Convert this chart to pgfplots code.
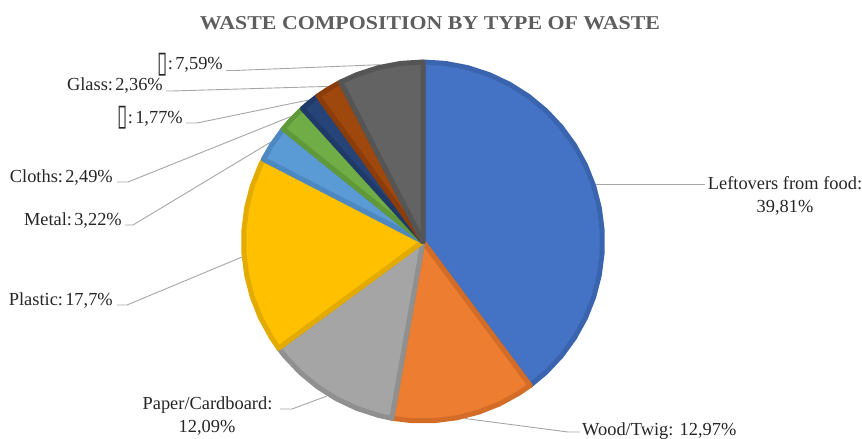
\documentclass[border=0pt]{standalone}
\usepackage{fontspec}
\setmainfont{Liberation Serif}
\newfontfamily\djv{DejaVu Sans}
\usepackage{pgfplots}
\pgfplotsset{compat=1.18}
\usepgfplotslibrary{polar}
\definecolor{c1}{HTML}{4472C4}\definecolor{d1}{HTML}{3B64AE}
\definecolor{c2}{HTML}{ED7D31}\definecolor{d2}{HTML}{D26C27}
\definecolor{c3}{HTML}{A5A5A5}\definecolor{d3}{HTML}{909090}
\definecolor{c4}{HTML}{FFC000}\definecolor{d4}{HTML}{E3AB00}
\definecolor{c5}{HTML}{5B9BD5}\definecolor{d5}{HTML}{4D89C0}
\definecolor{c6}{HTML}{70AD47}\definecolor{d6}{HTML}{5F993A}
\definecolor{c7}{HTML}{264478}\definecolor{d7}{HTML}{1F3A68}
\definecolor{c8}{HTML}{9E480E}\definecolor{d8}{HTML}{8A3D0A}
\definecolor{c9}{HTML}{636363}\definecolor{d9}{HTML}{555555}
\definecolor{txt}{HTML}{262626}
\definecolor{ttl}{HTML}{5E5E5E}
\definecolor{lead}{HTML}{A6A6A6}
\newcommand{\tofu}{\raisebox{-2.5bp}{\scalebox{0.62}[1]{\djv\fontsize{30bp}{30bp}\selectfont ▯}}}
\newcommand{\cs}{:\hspace{2.2bp}}
\begin{document}
\begin{tikzpicture}
\useasboundingbox (0,0) rectangle (862bp,439bp);
\begin{axis}[at={(0,0)},anchor=south west,width=862bp,height=439bp,scale only axis,
  xmin=0,xmax=862,ymin=0,ymax=439,y dir=reverse,hide axis,clip=false]
\coordinate (pc) at (axis cs:423,241.5);
\tikzset{leader/.style={draw=lead,line width=0.9bp},
  lab/.style={font=\fontsize{18.4bp}{22bp}\selectfont,text=txt,inner sep=0pt}}
\draw[leader] (axis cs:596,184) -- (axis cs:705,184);
\draw[leader] (axis cs:465,418.5) -- (axis cs:568,432) -- (axis cs:580,432);
\draw[leader] (axis cs:327,396) -- (axis cs:292,409) -- (axis cs:280,409);
\draw[leader] (axis cs:242,257) -- (axis cs:127,305) -- (axis cs:117,305);
\draw[leader] (axis cs:270.5,142.2) -- (axis cs:133,225) -- (axis cs:125,225);
\draw[leader] (axis cs:290.5,116.7) -- (axis cs:128,182) -- (axis cs:117,182);
\draw[leader] (axis cs:308.5,100) -- (axis cs:197,123) -- (axis cs:186,123);
\draw[leader] (axis cs:327.7,86.4) -- (axis cs:172,91) -- (axis cs:166,91);
\draw[leader] (axis cs:380,64.7) -- (axis cs:235,70.5) -- (axis cs:226,70.5);
\node[anchor=base,font=\fontsize{19.6bp}{24bp}\selectfont\bfseries,text=ttl,inner sep=0pt] at (axis cs:430,29.5) {\scalebox{1.116}[1]{WASTE COMPOSITION BY TYPE OF WASTE}};
\node[lab,anchor=base] at (axis cs:785,189) {Leftovers from food:};
\node[lab,anchor=base] at (axis cs:785,212) {39,81\%};
\node[lab,anchor=base west] at (axis cs:582,435) {Wood/Twig: 12,97\%};
\node[lab,anchor=base] at (axis cs:207.5,409) {Paper/Cardboard:};
\node[lab,anchor=base] at (axis cs:207,432) {12,09\%};
\node[lab,anchor=base east] at (axis cs:113,305) {Plastic\cs17,7\%};
\node[lab,anchor=base east] at (axis cs:122,225) {Metal\cs3,22\%};
\node[lab,anchor=base east] at (axis cs:113,182) {Cloths\cs2,49\%};
\node[lab,anchor=base east] at (axis cs:183,123) {\tofu\cs1,77\%};
\node[lab,anchor=base east] at (axis cs:163,91) {Glass\cs2,36\%};
\node[lab,anchor=base east] at (axis cs:223,70) {\tofu\cs7,59\%};
\end{axis}
\begin{polaraxis}[at={(pc)},anchor=center,width=364bp,height=364bp,scale only axis,
  hide axis,clip=false,xmin=0,xmax=360,ymin=0,ymax=1,
  x filter/.expression={90-3.6*x}]
\pgfplotsset{slice/.style={line width=5bp,line join=round,line cap=round}}
% Leftovers from food 39.81 (cumulative 0 -> 39.81)
\addplot[slice,fill=c1,draw=d1] coordinates {(0,0) (0,0.9863) (2,0.9863) (4,0.9863) (6,0.9863) (8,0.9863) (10,0.9863) (12,0.9863) (14,0.9863) (16,0.9863) (18,0.9863) (20,0.9863) (22,0.9863) (24,0.9863) (26,0.9863) (28,0.9863) (30,0.9863) (32,0.9863) (34,0.9863) (36,0.9863) (38,0.9863) (39.81,0.9863) (0,0)};
% Wood/Twig 12.97
\addplot[slice,fill=c2,draw=d2] coordinates {(0,0) (39.81,0.9863) (41,0.9863) (43,0.9863) (45,0.9863) (47,0.9863) (49,0.9863) (51,0.9863) (52.78,0.9863) (0,0)};
% Paper/Cardboard 12.09
\addplot[slice,fill=c3,draw=d3] coordinates {(0,0) (52.78,0.9863) (54,0.9863) (56,0.9863) (58,0.9863) (60,0.9863) (62,0.9863) (64,0.9863) (64.87,0.9863) (0,0)};
% Plastic 17.7
\addplot[slice,fill=c4,draw=d4] coordinates {(0,0) (64.87,0.9863) (66,0.9863) (68,0.9863) (70,0.9863) (72,0.9863) (74,0.9863) (76,0.9863) (78,0.9863) (80,0.9863) (82,0.9863) (82.57,0.9863) (0,0)};
% Metal 3.22
\addplot[slice,fill=c5,draw=d5] coordinates {(0,0) (82.57,0.9863) (84,0.9863) (85.79,0.9863) (0,0)};
% Cloths 2.49
\addplot[slice,fill=c6,draw=d6] coordinates {(0,0) (85.79,0.9863) (87,0.9863) (88.28,0.9863) (0,0)};
% [] 1.77
\addplot[slice,fill=c7,draw=d7] coordinates {(0,0) (88.28,0.9863) (89,0.9863) (90.05,0.9863) (0,0)};
% Glass 2.36
\addplot[slice,fill=c8,draw=d8] coordinates {(0,0) (90.05,0.9863) (91,0.9863) (92.41,0.9863) (0,0)};
% [] 7.59
\addplot[slice,fill=c9,draw=d9] coordinates {(0,0) (92.41,0.9863) (94,0.9863) (96,0.9863) (98,0.9863) (100,0.9863) (0,0)};
\end{polaraxis}
\end{tikzpicture}
\end{document}
